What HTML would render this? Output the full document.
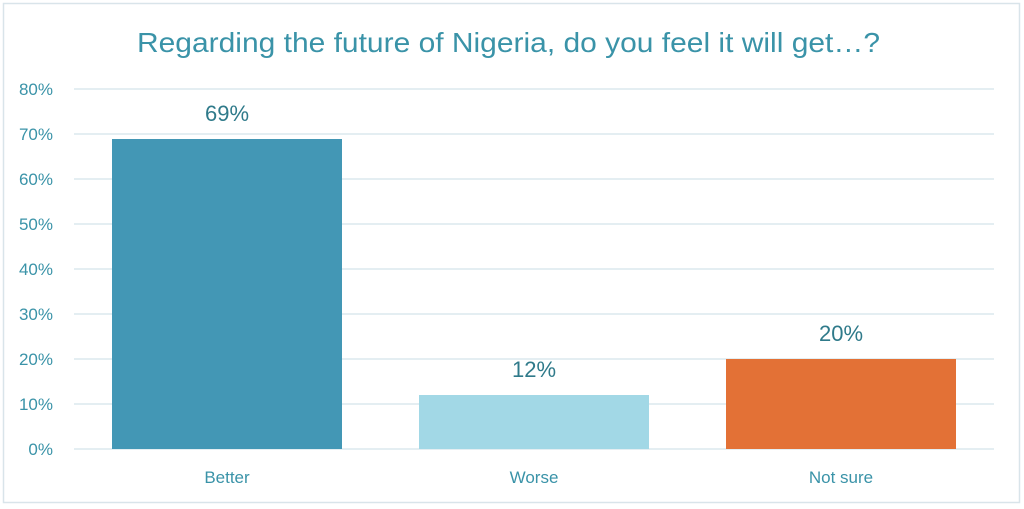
<!DOCTYPE html>
<html><head><style>
html,body{margin:0;padding:0;background:#fff;}
svg{display:block;font-family:"Liberation Sans",sans-serif;}
</style></head><body>
<svg width="1024" height="509" viewBox="0 0 1024 509">
<rect x="3.5" y="3.5" width="1016" height="499" fill="#fff" stroke="#d9e4ea" stroke-width="1.5"/>
<text x="137" y="52" font-size="28" fill="#3a93a8" textLength="743" lengthAdjust="spacingAndGlyphs">Regarding the future of Nigeria, do you feel it will get…?</text>
<g stroke="#dbe8ee" stroke-width="1.5">
<line x1="74" x2="994" y1="89" y2="89"/><line x1="74" x2="994" y1="134" y2="134"/>
<line x1="74" x2="994" y1="179" y2="179"/><line x1="74" x2="994" y1="224" y2="224"/>
<line x1="74" x2="994" y1="269" y2="269"/><line x1="74" x2="994" y1="314" y2="314"/>
<line x1="74" x2="994" y1="359" y2="359"/><line x1="74" x2="994" y1="404" y2="404"/>
<line x1="74" x2="994" y1="449" y2="449"/>
</g>
<g font-size="17" fill="#3a93a8" text-anchor="end">
<text x="53" y="95">80%</text><text x="53" y="140">70%</text><text x="53" y="185">60%</text>
<text x="53" y="230">50%</text><text x="53" y="275">40%</text><text x="53" y="320">30%</text>
<text x="53" y="365">20%</text><text x="53" y="410">10%</text><text x="53" y="455">0%</text>
</g>
<rect x="112" y="139" width="230" height="310" fill="#4397b5"/>
<rect x="419" y="395" width="230" height="54" fill="#a2d8e6"/>
<rect x="726" y="359" width="230" height="90" fill="#e37136"/>
<g font-size="22" fill="#2f7a8a" text-anchor="middle">
<text x="227" y="121">69%</text><text x="534" y="377">12%</text><text x="841" y="341">20%</text>
</g>
<g font-size="17" fill="#3a93a8" text-anchor="middle">
<text x="227" y="483">Better</text><text x="534" y="483">Worse</text><text x="841" y="483">Not sure</text>
</g>
</svg>
</body></html>
